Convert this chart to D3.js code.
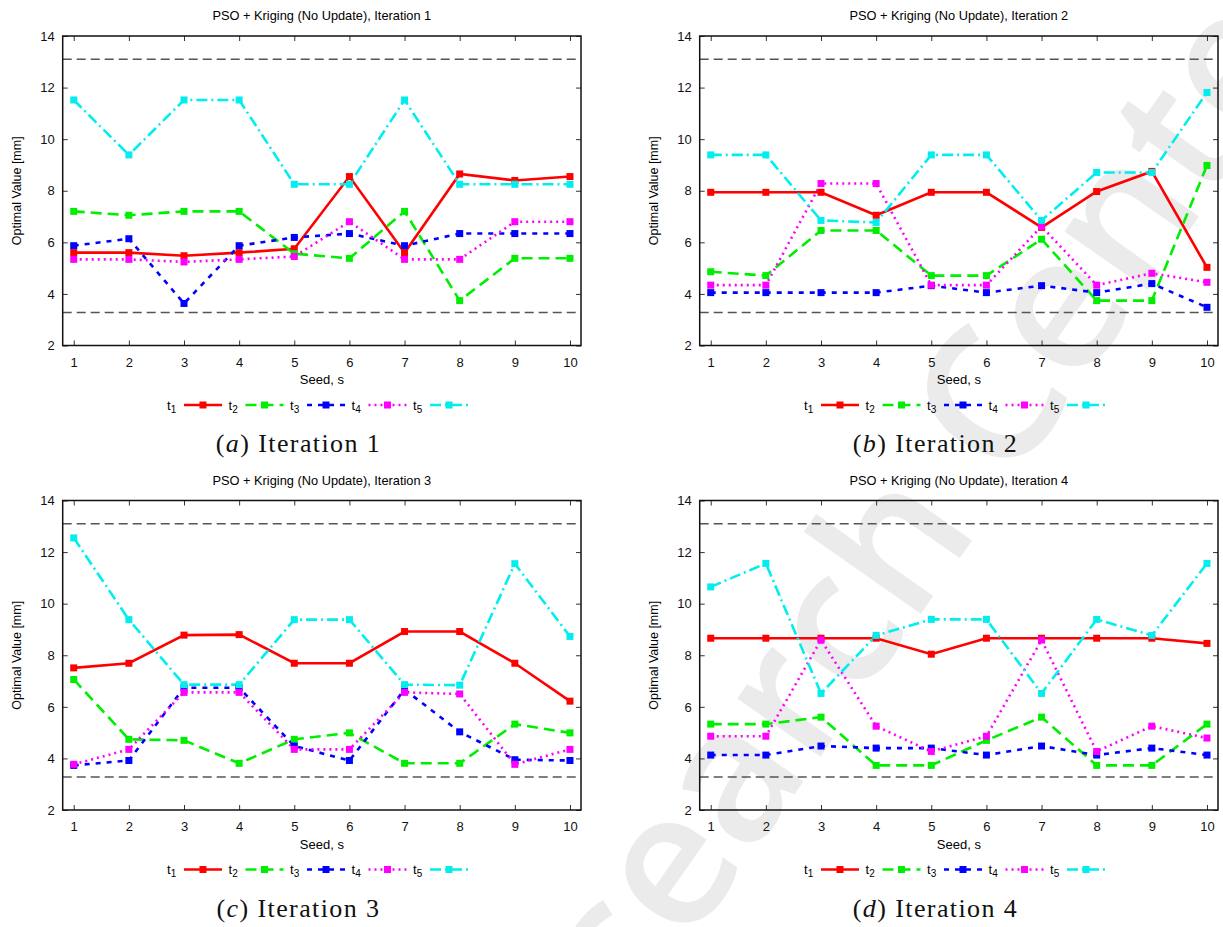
<html>
<head>
<script src="https://cdn.jsdelivr.net/npm/d3@7"></script>
<style>
  body { margin: 0; background: #fff; }
  svg text { font-family: "Liberation Sans", Arial, sans-serif; }
</style>
</head>
<body>
<script>
var width = 1223;
var height = 927;

// data
var seeds = [1, 2, 3, 4, 5, 6, 7, 8, 9, 10];
var seriesNames = ["1", "2", "3", "4", "5"];
var yTicks = [2, 4, 6, 8, 10, 12, 14];
var limits = [13.1, 3.28];
var captionLetters = ["a", "b", "c", "d"];

// rows: t1 .. t5, one value per seed
var iteration1 = [
  [5.6, 5.6, 5.48, 5.6, 5.75, 8.55, 5.6, 8.65, 8.4, 8.55],
  [7.2, 7.05, 7.2, 7.2, 5.56, 5.38, 7.2, 3.74, 5.38, 5.38],
  [5.87, 6.14, 3.63, 5.87, 6.19, 6.34, 5.87, 6.34, 6.34, 6.34],
  [5.34, 5.34, 5.24, 5.34, 5.45, 6.8, 5.34, 5.34, 6.8, 6.8],
  [11.52, 9.39, 11.52, 11.52, 8.25, 8.25, 11.52, 8.25, 8.25, 8.25]
];
var iteration2 = [
  [7.94, 7.94, 7.94, 7.05, 7.94, 7.94, 6.58, 7.97, 8.75, 5.03],
  [4.86, 4.71, 6.46, 6.46, 4.71, 4.71, 6.12, 3.74, 3.74, 8.98],
  [4.05, 4.05, 4.05, 4.05, 4.32, 4.05, 4.32, 4.05, 4.4, 3.48],
  [4.34, 4.34, 8.28, 8.28, 4.34, 4.34, 6.62, 4.34, 4.8, 4.45],
  [9.39, 9.39, 6.85, 6.77, 9.39, 9.39, 6.85, 8.71, 8.71, 11.81]
];
var iteration3 = [
  [7.51, 7.69, 8.78, 8.8, 7.69, 7.69, 8.92, 8.92, 7.69, 6.22],
  [7.06, 4.74, 4.7, 3.81, 4.74, 4.99, 3.81, 3.81, 5.33, 4.99],
  [3.73, 3.92, 6.74, 6.74, 4.48, 3.92, 6.67, 5.03, 3.95, 3.92],
  [3.77, 4.35, 6.56, 6.56, 4.35, 4.35, 6.56, 6.5, 3.77, 4.35],
  [12.55, 9.38, 6.86, 6.86, 9.38, 9.38, 6.86, 6.84, 11.55, 8.73]
];
var iteration4 = [
  [8.66, 8.66, 8.66, 8.66, 8.04, 8.66, 8.66, 8.66, 8.66, 8.46],
  [5.33, 5.33, 5.6, 3.73, 3.73, 4.7, 5.6, 3.73, 3.73, 5.33],
  [4.13, 4.13, 4.48, 4.4, 4.4, 4.13, 4.48, 4.13, 4.4, 4.13],
  [4.86, 4.86, 8.59, 5.25, 4.27, 4.86, 8.59, 4.27, 5.25, 4.79],
  [10.65, 11.56, 6.52, 8.77, 9.39, 9.39, 6.52, 9.39, 8.77, 11.56]
];
var iterations = [iteration1, iteration2, iteration3, iteration4];

// gnuplot-like line styles
var colors = ["#ff0000", "#00ee00", "#0000ff", "#ff00ff", "#00eeee"];
var dashes = ["none", "11,6", "5,6", "2,4", "11,4,2,4"];

// panel placement
var offsets = [[0, 0], [637, 0], [0, 464.5], [637, 464.5]];
var box = { left: 62.7, right: 581, top: 36, bottom: 345.5 };

const svg = d3.select("body").append("svg")
  .attr("width", width)
  .attr("height", height);

// watermark behind everything
svg.append("text")
  .attr("transform", "translate(890,570) rotate(-55)")
  .attr("text-anchor", "middle")
  .attr("dominant-baseline", "middle")
  .style("font-family", "'Open Sans', 'DejaVu Sans', sans-serif")
  .style("font-weight", "600")
  .style("font-size", "188px")
  .attr("fill", "#ebebeb")
  .text("Research Center");

var xScale = d3.scaleLinear([0.8, 10.2], [box.left, box.right]);
var yScale = d3.scaleLinear([2, 14], [box.bottom, box.top]);

var line = d3.line()
  .x((d, i) => xScale(seeds[i]))
  .y(d => yScale(d));

iterations.forEach((series, p) => {
  var g = svg.append("g")
    .attr("transform", `translate(${offsets[p][0]},${offsets[p][1]})`);

  g.append("text")
    .attr("x", (box.left + box.right) / 2)
    .attr("y", 20)
    .attr("text-anchor", "middle")
    .style("font-size", "12.8px")
    .text(`PSO + Kriging (No Update), Iteration ${p + 1}`);

  // limit lines
  g.selectAll(".limit")
    .data(limits)
    .join("line")
      .attr("x1", box.left)
      .attr("x2", box.right)
      .attr("y1", d => yScale(d))
      .attr("y2", d => yScale(d))
      .attr("stroke", "#555")
      .attr("stroke-width", 1.5)
      .attr("stroke-dasharray", "9,5");

  // inward ticks on all four sides
  var xAxisB = d3.axisBottom(xScale).tickValues(seeds).tickSize(-5).tickPadding(12).tickSizeOuter(0);
  var xAxisT = d3.axisTop(xScale).tickValues(seeds).tickSize(-5).tickFormat("").tickSizeOuter(0);
  var yAxisL = d3.axisLeft(yScale).tickValues(yTicks).tickSize(-5).tickPadding(8).tickSizeOuter(0);
  var yAxisR = d3.axisRight(yScale).tickValues(yTicks).tickSize(-5).tickFormat("").tickSizeOuter(0);

  [[xAxisB, `translate(0,${box.bottom})`], [xAxisT, `translate(0,${box.top})`],
   [yAxisL, `translate(${box.left},0)`], [yAxisR, `translate(${box.right},0)`]].forEach(a => {
    var ax = g.append("g").attr("transform", a[1]).call(a[0]);
    ax.select(".domain").remove();
    ax.selectAll(".tick line").attr("stroke", "#333").attr("stroke-width", 1);
    ax.selectAll(".tick text")
      .style("font-family", "'Liberation Sans', Arial, sans-serif")
      .style("font-size", "13px")
      .attr("fill", "#111");
  });

  g.selectAll("path.series")
    .data(series)
    .join("path")
      .attr("class", "series")
      .attr("d", d => line(d))
      .attr("fill", "none")
      .attr("stroke", (d, i) => colors[i])
      .attr("stroke-width", 2.6)
      .attr("stroke-dasharray", (d, i) => dashes[i]);

  series.forEach((vals, i) => {
    g.selectAll(`rect.m${i}`)
      .data(vals)
      .join("rect")
        .attr("class", `m${i}`)
        .attr("x", (d, j) => xScale(seeds[j]) - 3.5)
        .attr("y", d => yScale(d) - 3.5)
        .attr("width", 7)
        .attr("height", 7)
        .attr("fill", colors[i]);
  });

  // border
  g.append("rect")
    .attr("x", box.left)
    .attr("y", box.top)
    .attr("width", box.right - box.left)
    .attr("height", box.bottom - box.top)
    .attr("fill", "none")
    .attr("stroke", "#111")
    .attr("stroke-width", 1.5);

  g.append("text")
    .attr("x", (box.left + box.right) / 2)
    .attr("y", 384)
    .attr("text-anchor", "middle")
    .style("font-size", "13px")
    .text("Seed, s");

  g.append("text")
    .attr("transform", `translate(21,${(box.top + box.bottom) / 2}) rotate(-90)`)
    .attr("text-anchor", "middle")
    .style("font-size", "12.5px")
    .text("Optimal Value [mm]");

  // legend
  var leg = g.selectAll(".leg")
    .data(seriesNames)
    .join("g")
      .attr("class", "leg")
      .attr("transform", (d, i) => `translate(${167 + i * 61.5},405)`);

  var lt = leg.append("text")
    .attr("x", 0)
    .attr("y", 4.5)
    .style("font-size", "13px")
    .text("t");
  lt.append("tspan")
    .attr("dy", 3)
    .style("font-size", "10px")
    .text(d => d);

  leg.append("line")
    .attr("x1", 17)
    .attr("x2", 55)
    .attr("stroke", (d, i) => colors[i])
    .attr("stroke-width", 2.6)
    .attr("stroke-dasharray", (d, i) => dashes[i]);

  leg.append("rect")
    .attr("x", 32.5)
    .attr("y", -3.5)
    .attr("width", 7)
    .attr("height", 7)
    .attr("fill", (d, i) => colors[i]);

  // caption
  var cap = g.append("text")
    .attr("x", 298.5)
    .attr("y", 452)
    .attr("text-anchor", "middle")
    .style("font-family", "'Liberation Serif', 'Times New Roman', serif")
    .style("font-size", "26px")
    .style("letter-spacing", "1.4px")
    .attr("fill", "#111");
  cap.append("tspan").text("(");
  cap.append("tspan").style("font-style", "italic").text(captionLetters[p]);
  cap.append("tspan").text(") Iteration " + (p + 1));
});
</script>
</body>
</html>
